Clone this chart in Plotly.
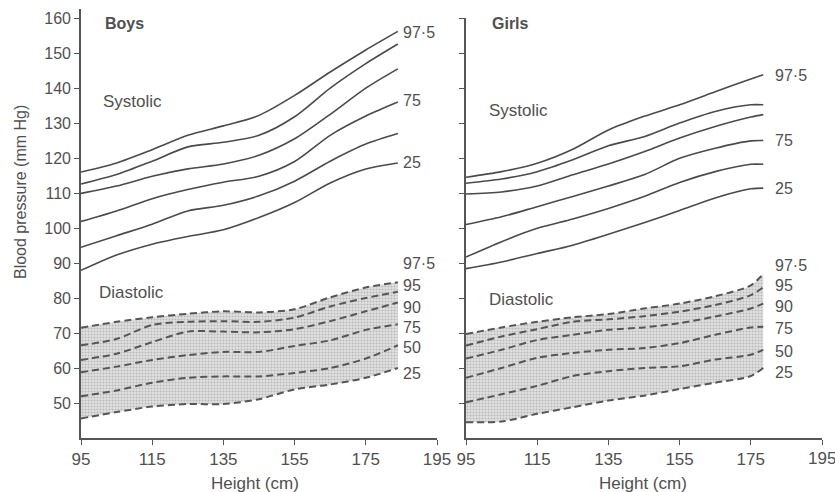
import plotly.graph_objects as go

# ---------------- data ----------------
height_boys = [95, 105, 115, 125, 135, 145, 155, 165, 175, 184]
height_girls = [95, 105, 115, 125, 135, 145, 155, 165, 175, 178.5]
percentiles = ["97·5", "95", "90", "75", "50", "25"]

boys_sys_975 = [116.0, 118.6, 122.4, 126.5, 129.2, 132.2, 137.9, 144.6, 150.9, 156.2]
boys_sys_95 = [112.6, 115.3, 119.1, 123.2, 124.5, 126.5, 131.8, 140.0, 147.0, 152.6]
boys_sys_90 = [109.9, 112.0, 114.8, 116.9, 118.3, 120.8, 125.5, 132.5, 140.0, 145.5]
boys_sys_75 = [101.9, 104.9, 108.4, 111.0, 113.1, 114.8, 119.0, 126.5, 132.0, 136.0]
boys_sys_50 = [94.5, 97.8, 101.1, 104.9, 106.5, 109.2, 113.4, 119.1, 124.0, 127.0]
boys_sys_25 = [87.9, 92.3, 95.4, 97.6, 99.5, 103.0, 107.3, 112.9, 116.9, 118.6]

boys_dia_975 = [71.5, 73.2, 74.5, 75.5, 76.2, 75.9, 76.8, 80.2, 83.0, 84.5]
boys_dia_95 = [66.5, 68.3, 72.3, 73.2, 73.4, 73.2, 74.4, 77.6, 80.0, 81.8]
boys_dia_90 = [62.3, 64.1, 67.4, 70.4, 70.4, 70.2, 71.1, 73.4, 76.2, 78.7]
boys_dia_75 = [58.8, 60.4, 62.3, 63.7, 64.6, 64.6, 66.3, 67.9, 70.9, 72.5]
boys_dia_50 = [51.9, 53.6, 55.8, 57.2, 57.6, 57.6, 58.6, 60.0, 62.7, 66.5]
boys_dia_25 = [45.6, 47.4, 49.0, 49.7, 49.7, 51.1, 53.9, 55.3, 57.2, 60.0]

girls_sys_975 = [114.5, 116.1, 118.5, 122.5, 128.0, 131.9, 135.2, 138.9, 142.6, 143.8]
girls_sys_95 = [112.8, 114.0, 116.1, 119.5, 123.5, 126.1, 130.0, 133.3, 135.2, 135.2]
girls_sys_90 = [109.7, 110.3, 112.0, 115.2, 118.3, 121.8, 125.7, 129.0, 131.7, 132.4]
girls_sys_75 = [101.0, 103.2, 106.1, 109.0, 112.0, 115.2, 119.9, 122.8, 124.9, 125.0]
girls_sys_50 = [91.7, 96.1, 99.9, 102.6, 105.6, 109.0, 113.0, 116.1, 118.2, 118.2]
girls_sys_25 = [88.4, 90.3, 92.7, 95.1, 98.2, 101.5, 105.0, 108.6, 111.2, 111.4]

girls_dia_975 = [69.7, 71.6, 73.2, 74.5, 75.4, 77.0, 78.4, 80.5, 83.6, 86.9]
girls_dia_95 = [66.4, 69.0, 71.1, 73.2, 73.9, 74.8, 76.1, 78.0, 80.8, 83.1]
girls_dia_90 = [62.7, 65.2, 68.0, 69.5, 70.9, 71.6, 72.8, 74.7, 77.0, 78.4]
girls_dia_75 = [57.2, 60.0, 62.9, 64.3, 65.2, 65.7, 67.1, 69.5, 71.6, 71.8]
girls_dia_50 = [50.2, 52.5, 54.9, 57.7, 59.1, 60.0, 60.5, 62.4, 63.8, 65.2]
girls_dia_25 = [44.5, 44.7, 46.9, 48.8, 50.7, 52.1, 54.0, 55.8, 57.7, 60.0]

x_ticks = [95, 115, 135, 155, 175, 195]
x_tick_text = ["95", "115", "135", "155", "175", "195"]
y_ticks = [50, 60, 70, 80, 90, 100, 110, 120, 130, 140, 150, 160]

# label placements (layout constants)
boys_sys_labels = [("97·5", 156.0), ("75", 136.5), ("25", 118.7)]
girls_sys_labels = [("97·5", 143.7), ("75", 125.0), ("25", 111.4)]
boys_dia_label_y = [90.0, 83.5, 77.3, 71.6, 65.9, 58.4]
girls_dia_label_y = [89.2, 83.6, 77.7, 71.3, 64.7, 58.6]

# ---------------- figure ----------------
W, H = 835, 492
LINE = "#4a4a4a"
TXT = "#505050"
FONT = "Liberation Sans, Arial, sans-serif"

fig = go.Figure()


def add_panel(xv, sys_curves, dia_curves, xa, ya):
    # shaded diastolic band
    fig.add_trace(go.Scatter(x=xv, y=dia_curves[-1], mode="lines", line=dict(width=0, shape="spline", smoothing=0.8),
                             xaxis=xa, yaxis=ya, hoverinfo="skip", showlegend=False))
    fig.add_trace(go.Scatter(x=xv, y=dia_curves[0], mode="lines", line=dict(width=0, shape="spline", smoothing=0.8),
                             fill="tonexty", fillcolor="#d6d6d6",
                             fillpattern=dict(shape=".", fgcolor="#8f8f8f", bgcolor="#e2e2e2", size=3, solidity=0.4),
                             xaxis=xa, yaxis=ya, hoverinfo="skip", showlegend=False))
    for c in sys_curves:
        fig.add_trace(go.Scatter(x=xv, y=c, mode="lines", line=dict(color=LINE, width=1.6, shape="spline", smoothing=0.8),
                                 xaxis=xa, yaxis=ya, showlegend=False))
    for c in dia_curves:
        fig.add_trace(go.Scatter(x=xv, y=c, mode="lines",
                                 line=dict(color="#555555", width=2, dash="7px,4px", shape="spline", smoothing=0.8),
                                 xaxis=xa, yaxis=ya, showlegend=False))


add_panel(height_boys,
          [boys_sys_975, boys_sys_95, boys_sys_90, boys_sys_75, boys_sys_50, boys_sys_25],
          [boys_dia_975, boys_dia_95, boys_dia_90, boys_dia_75, boys_dia_50, boys_dia_25], "x", "y")
add_panel(height_girls,
          [girls_sys_975, girls_sys_95, girls_sys_90, girls_sys_75, girls_sys_50, girls_sys_25],
          [girls_dia_975, girls_dia_95, girls_dia_90, girls_dia_75, girls_dia_50, girls_dia_25], "x2", "y2")

ax_common = dict(showgrid=False, zeroline=False, showline=True, linecolor="#555555", linewidth=1.6,
                 ticks="outside", ticklen=5, tickwidth=1.4, tickcolor="#555555", automargin=False)

x_dom_l = [81 / W, 437 / W]
x_dom_r = [466 / W, 822 / W]
y_bot = (H - 438) / H

# last tick label of the right panel sits at the page edge; drawn as annotation below
right_tick_text = x_tick_text[:-1] + [""]

fig.update_layout(
    width=W, height=H, paper_bgcolor="white", plot_bgcolor="white",
    margin=dict(l=0, r=0, t=0, b=0, autoexpand=False),
    font=dict(family=FONT, color=TXT),
    xaxis=dict(domain=x_dom_l, range=[95, 195], tickvals=x_ticks, ticktext=x_tick_text, anchor="y",
               tickfont=dict(size=17, color=TXT), **ax_common),
    xaxis2=dict(domain=x_dom_r, range=[95, 195], tickvals=x_ticks, ticktext=right_tick_text, anchor="y2",
                tickfont=dict(size=17, color=TXT), **ax_common),
    yaxis=dict(domain=[y_bot, (H - 9) / H], range=[40, 162.6], tickvals=y_ticks, anchor="x",
               tickfont=dict(size=16, color=TXT), **ax_common),
    yaxis2=dict(domain=[y_bot, (H - 18) / H], range=[40, 160], tickvals=y_ticks, anchor="x2",
                showticklabels=False, **ax_common),
)

ann = []


def txt(x, y, s, xref, yref, size=16, bold=False, xanchor="left"):
    ann.append(dict(x=x, y=y, xref=xref, yref=yref, text=("<b>%s</b>" % s) if bold else s,
                    showarrow=False, xanchor=xanchor, yanchor="middle",
                    font=dict(size=size, color=TXT, family=FONT)))


txt(101.3, 158.4, "Boys", "x", "y", size=16, bold=True)
txt(101.7, 158.3, "Girls", "x2", "y2", size=16, bold=True)
txt(100.6, 136.3, "Systolic", "x", "y", size=17)
txt(100.8, 133.7, "Systolic", "x2", "y2", size=17)
txt(99.4, 81.7, "Diastolic", "x", "y", size=17)
txt(100.8, 79.7, "Diastolic", "x2", "y2", size=17)

for s, yv in boys_sys_labels:
    txt(185.0, yv, s, "x", "y")
for s, yv in girls_sys_labels:
    txt(181.2, yv, s, "x2", "y2")
for s, yv in zip(percentiles, boys_dia_label_y):
    txt(185.0, yv, s, "x", "y")
for s, yv in zip(percentiles, girls_dia_label_y):
    txt(181.2, yv, s, "x2", "y2")

# right-panel "195" tick label
ann.append(dict(x=x_ticks[-1], y=(H - 458) / H, xref="x2", yref="paper", text=x_tick_text[-1], showarrow=False,
                xanchor="center", yanchor="middle", font=dict(size=17, color=TXT, family=FONT)))

# axis titles
ann.append(dict(x=255 / W, y=(H - 483) / H, xref="paper", yref="paper", text="Height (cm)", showarrow=False,
                xanchor="center", yanchor="middle", font=dict(size=17, color=TXT, family=FONT)))
ann.append(dict(x=643 / W, y=(H - 483) / H, xref="paper", yref="paper", text="Height (cm)", showarrow=False,
                xanchor="center", yanchor="middle", font=dict(size=17, color=TXT, family=FONT)))
ann.append(dict(x=20 / W, y=(H - 192) / H, xref="paper", yref="paper", text="Blood pressure (mm Hg)",
                showarrow=False, textangle=-90, xanchor="center", yanchor="middle",
                font=dict(size=16, color=TXT, family=FONT)))

fig.update_layout(annotations=ann)
fig.write_html("out.html", config={"displayModeBar": False},
               post_script="document.body.style.margin='0';document.body.style.padding='0';")
